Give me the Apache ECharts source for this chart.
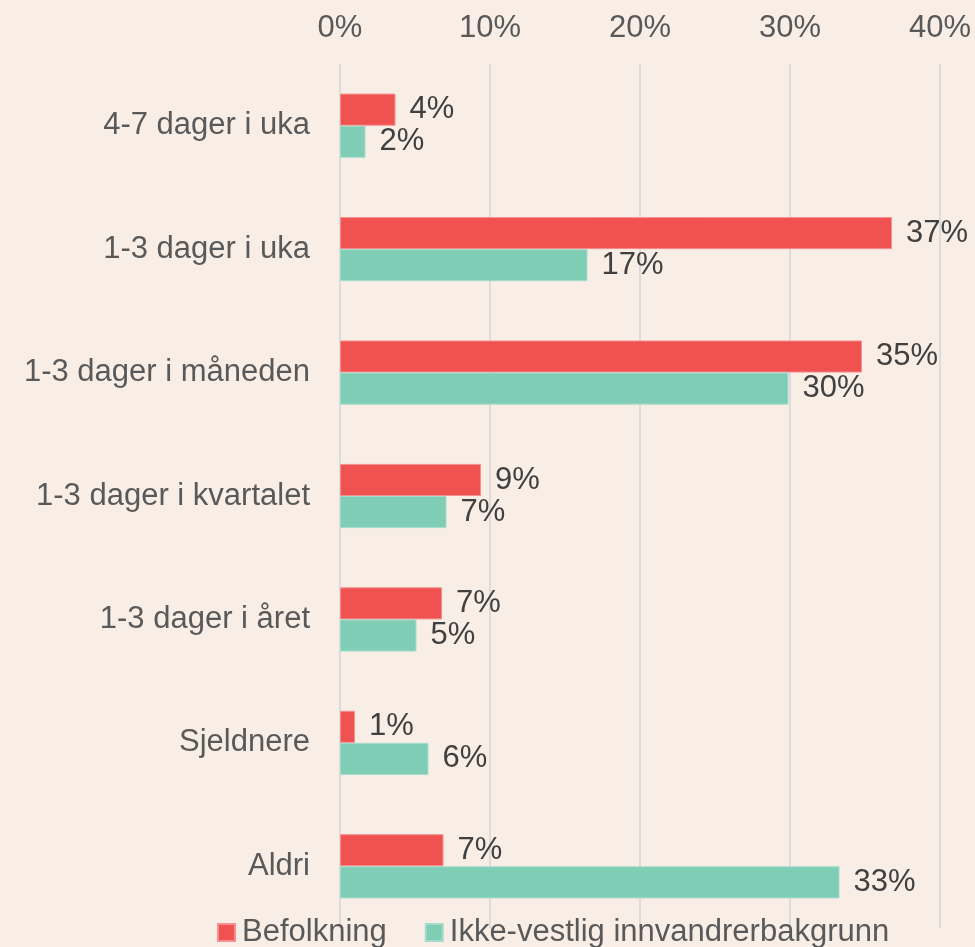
<!DOCTYPE html>
<html>
<head>
<meta charset="utf-8">
<script src="https://cdn.jsdelivr.net/npm/echarts@6/dist/echarts.min.js"></script>
<style>
  html, body { margin: 0; padding: 0; background: #f9eee6; }
  #chart { width: 975px; height: 947px; }
</style>
</head>
<body>
<div id="chart"></div>
<script>
// categories, top to bottom
const categories = [
  '4-7 dager i uka',
  '1-3 dager i uka',
  '1-3 dager i måneden',
  '1-3 dager i kvartalet',
  '1-3 dager i året',
  'Sjeldnere',
  'Aldri'
]
// share in percent
const befolkning = [3.7, 36.8, 34.8, 9.4, 6.8, 1.0, 6.9]
const ikkeVestlig = [1.7, 16.5, 29.9, 7.1, 5.1, 5.9, 33.3]
const seriesNames = ['Befolkning', 'Ikke-vestlig innvandrerbakgrunn']

const chart = echarts.init(document.getElementById('chart'))

const labelStyle = {
  show: true,
  position: 'right',
  distance: 14,
  color: '#404040',
  fontSize: 31,
  fontFamily: 'Liberation Sans, Arial, sans-serif',
  formatter: p => Math.round(p.value) + '%'
}

chart.setOption({
  backgroundColor: '#f9eee6',
  textStyle: { fontFamily: 'Liberation Sans, Arial, sans-serif' },
  grid: {
    left: 340,
    right: 35,
    top: 64,
    bottom: 19
  },
  legend: {
    data: seriesNames,
    bottom: -6,
    left: 212,
    itemWidth: 17,
    itemHeight: 17,
    itemGap: 38,
    icon: 'rect',
    textStyle: { color: '#595959', fontSize: 31, padding: [0, 0, 0, 2] }
  },
  xAxis: {
    type: 'value',
    position: 'top',
    min: 0,
    max: 40,
    interval: 10,
    axisLine: { show: false },
    axisTick: { show: false },
    axisLabel: {
      color: '#595959',
      fontSize: 31,
      margin: 20,
      formatter: '{value}%'
    },
    splitLine: { lineStyle: { color: '#dcdcdc', width: 2 } }
  },
  yAxis: {
    type: 'category',
    data: categories,
    inverse: true,
    axisLine: { show: false },
    axisTick: { show: false },
    axisLabel: {
      color: '#595959',
      fontSize: 31,
      margin: 30
    }
  },
  series: [
    {
      name: seriesNames[0],
      type: 'bar',
      data: befolkning,
      barGap: '0%',
      barCategoryGap: '48%',
      itemStyle: { color: '#f05252', borderColor: '#f49090', borderWidth: 1 },
      label: labelStyle
    },
    {
      name: seriesNames[1],
      type: 'bar',
      data: ikkeVestlig,
      itemStyle: { color: '#80cdb5', borderColor: '#a4dccb', borderWidth: 1 },
      label: labelStyle
    }
  ]
})
</script>
</body>
</html>
